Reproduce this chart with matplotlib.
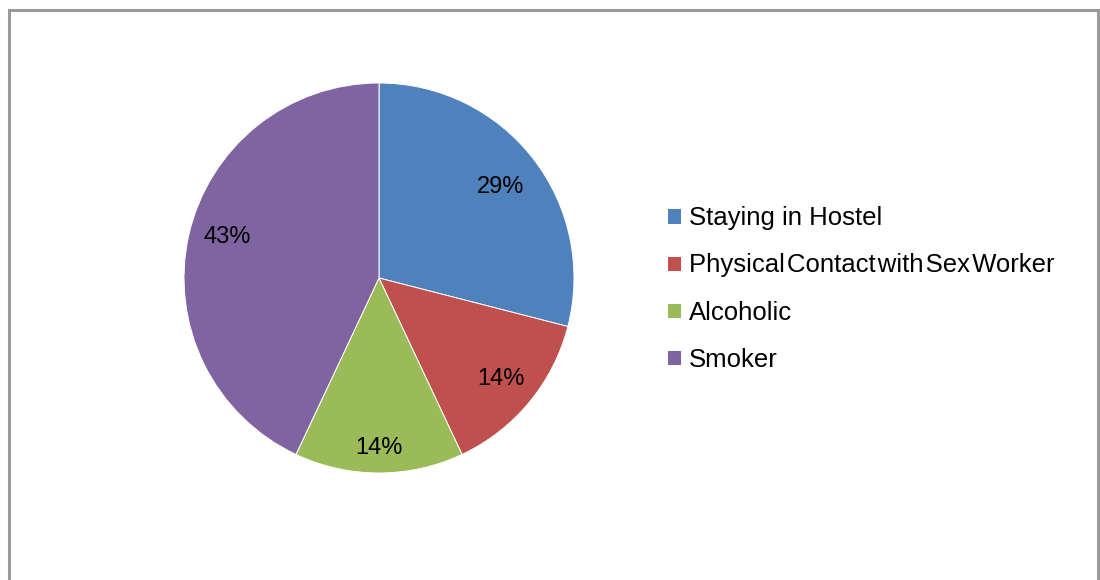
import matplotlib
matplotlib.use("Agg")
import matplotlib.pyplot as plt
from matplotlib.patches import Rectangle
import numpy as np

# Data
categories = ["Staying in Hostel", "Physical Contact with Sex Worker", "Alcoholic", "Smoker"]
shares = [29, 14, 14, 43]
colors = ["#4F81BD", "#C0504D", "#9BBB59", "#8064A2"]

plt.rcParams["font.family"] = ["Liberation Sans", "DejaVu Sans"]

W, H = 1100, 580
fig = plt.figure(figsize=(W / 100, H / 100), dpi=100)
fig.patch.set_facecolor("white")

# Outer chart frame (bottom edge runs off the canvas)
fig.patches.append(Rectangle((9 / W, -0.05), (1098 - 9) / W, (H - 10) / H + 0.05,
                             transform=fig.transFigure, fill=False,
                             edgecolor="#9a9a9a", linewidth=2.2))

cx, cy, r = 379, 278, 195
ax = fig.add_axes([(cx - r) / W, (H - cy - r) / H, 2 * r / W, 2 * r / H])
wedges, _ = ax.pie(shares, colors=colors, startangle=90, counterclock=False,
                   radius=1.0, wedgeprops=dict(edgecolor="white", linewidth=0.7))
ax.set_xlim(-1, 1)
ax.set_ylim(-1, 1)
ax.set_aspect("equal")
ax.axis("off")

# Percentage labels placed inside each wedge
label_dist = [0.79, 0.81, 0.86, 0.80]
label_shift = [-0.015, 0.0, -0.01, 0.035]
for w, s, d, sh in zip(wedges, shares, label_dist, label_shift):
    ang = np.deg2rad((w.theta1 + w.theta2) / 2)
    x, y = d * np.cos(ang), d * np.sin(ang) + sh
    ax.text(x, y, f"{s}%", ha="center", va="center", fontsize=17, color="black")

# Long legend entry is set with tight word spacing
legend_labels = [c.replace(" ", "\u200a") if len(c) > 25 else c for c in categories]

leg = fig.legend(wedges, legend_labels, loc="upper left",
                 bbox_to_anchor=(657 / W, 1 - 196 / H), frameon=False,
                 fontsize=18.5, handlelength=0.55, handleheight=0.55,
                 handletextpad=0.3, labelspacing=0.90, borderaxespad=0)

fig.savefig("out.png", dpi=100, facecolor="white")
